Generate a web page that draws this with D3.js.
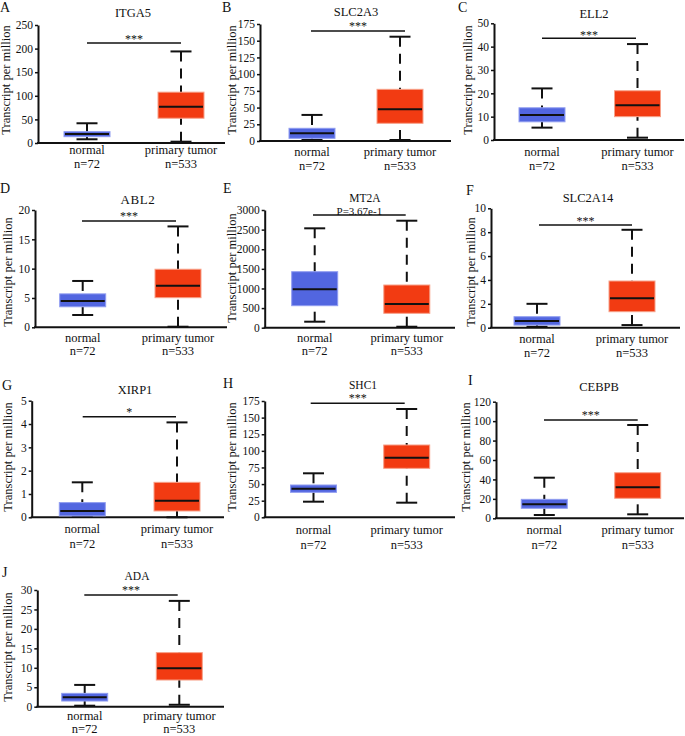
<!DOCTYPE html>
<html><head><meta charset="utf-8">
<script src="https://cdn.jsdelivr.net/npm/d3@7/dist/d3.min.js"></script>
<style>body{margin:0;background:#fff}svg{display:block}svg text{font-family:"Liberation Serif","DejaVu Serif",serif !important;fill:#111}</style>
</head><body><svg id="c" width="685" height="736" font-family="Liberation Serif, DejaVu Serif, serif"></svg>
<script>
// ---------- data ----------
const genes = ["ITGA5","SLC2A3","ELL2","ABL2","MT2A","SLC2A14","XIRP1","SHC1","CEBPB","ADA"];
const letters = ["A","B","C","D","E","F","G","H","I","J"];
const yMax = [250,175,50,20,3000,10,5,175,120,30];
const yStep = [50,25,10,5,500,2,1,25,20,5];
const sigLabels = ["***","***","***","***","P=3.67e-1","***","*","***","***","***"];
const groups = ["normal","primary tumor"];
const counts = ["n=72","n=533"];
// [lower whisker, q1, median, q3, upper whisker]
const normalStats = [
  [7.9,13.4,19,24,41.8],
  [1.5,4,11.5,19,39],
  [5.3,7.8,10.7,13.8,22.1],
  [2.1,3.5,4.5,5.7,7.9],
  [153,561,979,1427,2533],
  [0.08,0.22,0.56,0.92,2.0],
  [0.03,0.06,0.27,0.63,1.5],
  [23.5,37.6,43,48.6,66.2],
  [3.4,10.3,14.4,19.5,41.8],
  [0.26,1.46,2.4,3.43,5.6]
];
const tumorStats = [
  [2.8,52.5,77,107.7,194],
  [1.5,26.5,47.4,77.3,156],
  [1.0,10,14.9,21.1,41.1],
  [0.1,5.05,7.1,9.9,17.2],
  [25,367,604,1088,2727],
  [0.22,1.34,2.46,3.91,8.2],
  [0,0.27,0.71,1.5,4.07],
  [22,73.7,89.7,108.8,163],
  [4.1,20.6,31.9,46.9,96],
  [0.5,6.86,9.87,13.9,27.2]
];

// ---------- layout (pixel positions) ----------
const layout = [
 {ax:38, top:25, bot:143, xe:225, c:[87,181], sig:[87,181,43], sigT:36, tx:133, ty:13, lx:0, ly:7, ylx:6, yly:80, gy:150, ny:164},
 {ax:260, top:24, bot:141, xe:451, c:[312,400], sig:[311,405,31], sigT:23, tx:356, ty:12, lx:222, ly:7, ylx:232, yly:80, gy:152, ny:166},
 {ax:494, top:23.3, bot:140, xe:684, c:[542,637.5], sig:[542,636,38.3], sigT:31.7, tx:594, ty:14, lx:458, ly:7.5, ylx:468, yly:80, gy:152, ny:166},
 {ax:35, top:210, bot:327.3, xe:227, c:[82.7,178], sig:[82,176,221], sigT:213, tx:138, ty:199, lx:0, ly:188, ylx:8, yly:272, gy:338, ny:351, bigTitle:true},
 {ax:264.7, top:210, bot:327.7, xe:455, c:[314.7,406.8], sig:[313,405.7,215], sigT:210.5, tx:365, ty:197.5, lx:223, ly:188, ylx:232, yly:268, gy:338, ny:351, small:true},
 {ax:491, top:208.3, bot:327.7, xe:680, c:[537,632], sig:[539,632,225], sigT:217.7, tx:588, ty:198, lx:466, ly:190, ylx:471, yly:272, gy:339, ny:353},
 {ax:31.7, top:400.7, bot:517.3, xe:224, c:[82.3,177], sig:[82.7,176,416.7], sigT:409, tx:135, ty:390, lx:2, ly:385, ylx:8, yly:457, gy:529, ny:544},
 {ax:264.7, top:401, bot:517.3, xe:455, c:[313.5,406.7], sig:[310.7,404.7,403.3], sigT:395, tx:363, ty:385, lx:223, ly:383, ylx:232, yly:457, gy:530, ny:545, small:true},
 {ax:496, top:401.7, bot:518.3, xe:684, c:[544.3,637.7], sig:[544,637.7,420], sigT:412, tx:599, ty:386.7, lx:468, ly:380, ylx:466, yly:457, gy:530, ny:545},
 {ax:37.3, top:590, bot:706.7, xe:224, c:[84.7,179.3], sig:[84.3,177.7,595], sigT:587, tx:137, ty:576, lx:2, ly:572, ylx:8, yly:647, gy:716, ny:729, small:true}
];
const colors = [{fill:"#5266e0", stroke:"#8f9cf0"},{fill:"#f23b12", stroke:"#f7a088"}];
const boxW = 46, capW = 21;
const FF = "Liberation Serif, DejaVu Serif, serif";

const svg = d3.select("#c");
genes.forEach((g,i)=>{
  const L = layout[i];
  const y = d3.scaleLinear().domain([0,yMax[i]]).range([L.bot,L.top]);
  const x = d3.scaleOrdinal().domain(groups).range(L.c);
  const gp = svg.append("g").attr("font-family",FF);
  const ticks = d3.range(0, yMax[i]+yStep[i]/2, yStep[i]);
  const ax = gp.append("g").attr("transform",`translate(${L.ax},0)`)
    .call(d3.axisLeft(y).tickValues(ticks).tickSize(3).tickPadding(2).tickSizeOuter(0).tickFormat(d3.format("d")));
  ax.attr("font-family",FF);
  ax.select(".domain").attr("stroke","#111").attr("stroke-width",2);
  ax.selectAll(".tick line").attr("stroke","#111").attr("stroke-width",1.5);
  ax.selectAll(".tick text").attr("font-size",11.5).attr("fill","#111");
  gp.append("line").attr("x1",L.ax-1).attr("x2",L.xe).attr("y1",L.bot).attr("y2",L.bot)
    .attr("stroke","#111").attr("stroke-width",2);
  [normalStats[i], tumorStats[i]].forEach((s,k)=>{
    const cx = x(groups[k]);
    const [lo,q1,md,q3,hi] = s;
    gp.append("line").attr("x1",cx).attr("x2",cx).attr("y1",y(hi)).attr("y2",y(q3))
      .attr("stroke","#111").attr("stroke-width",2).attr("stroke-dasharray","10,7");
    gp.append("line").attr("x1",cx).attr("x2",cx).attr("y1",y(lo)).attr("y2",y(q1))
      .attr("stroke","#111").attr("stroke-width",2).attr("stroke-dasharray","10,7");
    [lo,hi].forEach(v=>gp.append("line").attr("x1",cx-capW/2).attr("x2",cx+capW/2)
      .attr("y1",y(v)).attr("y2",y(v)).attr("stroke","#111").attr("stroke-width",2));
    gp.append("rect").attr("x",cx-boxW/2).attr("width",boxW).attr("y",y(q3))
      .attr("height",Math.max(1,y(q1)-y(q3))).attr("fill",colors[k].fill)
      .attr("stroke",colors[k].stroke).attr("stroke-width",1);
    gp.append("line").attr("x1",cx-boxW/2+1).attr("x2",cx+boxW/2-1).attr("y1",y(md)).attr("y2",y(md))
      .attr("stroke","#111").attr("stroke-width",2);
    gp.append("text").attr("x",cx).attr("y",L.gy).attr("text-anchor","middle")
      .attr("dominant-baseline","central").attr("font-size",12.5).text(groups[k]);
    gp.append("text").attr("x",cx).attr("y",L.ny).attr("text-anchor","middle")
      .attr("dominant-baseline","central").attr("font-size",12.5).text(counts[k]);
  });
  gp.append("line").attr("x1",L.sig[0]).attr("x2",L.sig[1]).attr("y1",L.sig[2]).attr("y2",L.sig[2])
    .attr("stroke","#111").attr("stroke-width",1.5);
  const isStar = sigLabels[i].startsWith("*");
  gp.append("text").attr("x",(L.sig[0]+L.sig[1])/2).attr("y",L.sigT + (isStar?3:0))
    .attr("text-anchor","middle").attr("dominant-baseline","central")
    .attr("font-size",L.small&&!isStar?11:12).text(sigLabels[i]);
  gp.append("text").attr("x",L.tx).attr("y",L.ty).attr("text-anchor","middle")
    .attr("dominant-baseline","central").attr("font-size",L.bigTitle?13:(L.small?11.5:12.5))
    .attr("letter-spacing",L.bigTitle?0.6:0).text(g);
  gp.append("text").attr("x",L.lx).attr("y",L.ly).attr("dominant-baseline","central")
    .attr("font-size",14).text(letters[i]);
  gp.append("text").attr("transform",`translate(${L.ylx},${L.yly}) rotate(-90)`)
    .attr("text-anchor","middle").attr("dominant-baseline","central")
    .attr("font-size",12.5).text("Transcript per million");
});
</script></body></html>
